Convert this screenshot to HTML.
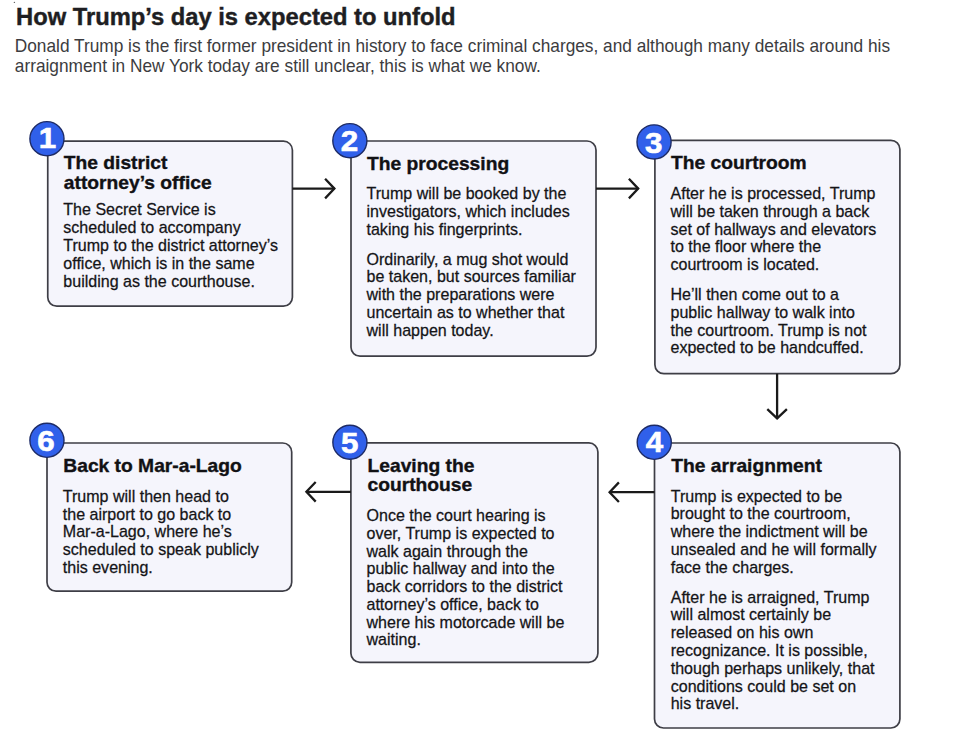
<!DOCTYPE html>
<html><head><meta charset="utf-8"><style>
html,body{margin:0;padding:0;background:#fff;width:979px;height:736px;overflow:hidden}
svg{display:block}
text{font-family:"Liberation Sans",sans-serif}
.t{font-size:18.2px;font-weight:bold;fill:#111114;stroke:#111114;stroke-width:0.35px;letter-spacing:0.0px}
.b{font-size:15.8px;fill:#141417;stroke:#141417;stroke-width:0.25px;letter-spacing:0.0px}
.num{font-size:29px;font-weight:bold;fill:#fff;stroke:#fff;stroke-width:0.6px}
.h{font-size:23px;font-weight:bold;fill:#1e1e22;stroke:#1e1e22;stroke-width:0.4px}
.s{font-size:17.9px;fill:#3c3c40}
</style></head><body>
<svg width="979" height="736" viewBox="0 0 979 736">
<rect x="47.75" y="141.1" width="244.65" height="165.10" rx="9" ry="9" fill="#f5f5fc" stroke="#3e3e46" stroke-width="1.7"/>
<rect x="351.0" y="141.0" width="245.00" height="215.20" rx="9" ry="9" fill="#f5f5fc" stroke="#3e3e46" stroke-width="1.7"/>
<rect x="654.9" y="140.3" width="245.00" height="233.40" rx="9" ry="9" fill="#f5f5fc" stroke="#3e3e46" stroke-width="1.7"/>
<rect x="47.0" y="443.0" width="244.70" height="148.20" rx="9" ry="9" fill="#f5f5fc" stroke="#3e3e46" stroke-width="1.7"/>
<rect x="350.9" y="442.9" width="247.00" height="219.40" rx="9" ry="9" fill="#f5f5fc" stroke="#3e3e46" stroke-width="1.7"/>
<rect x="654.5" y="443.0" width="245.40" height="285.00" rx="9" ry="9" fill="#f5f5fc" stroke="#3e3e46" stroke-width="1.7"/>
<path d="M292.4 188.6 H334.6" stroke="#1a1a1a" stroke-width="2.3" fill="none"/>
<path d="M325.1 178.79999999999998 L334.40000000000003 188.6 L325.1 198.4" stroke="#1a1a1a" stroke-width="2.3" fill="none" stroke-linejoin="miter" stroke-miterlimit="10"/>
<path d="M596.0 188.6 H638.4" stroke="#1a1a1a" stroke-width="2.3" fill="none"/>
<path d="M628.9 178.79999999999998 L638.1999999999999 188.6 L628.9 198.4" stroke="#1a1a1a" stroke-width="2.3" fill="none" stroke-linejoin="miter" stroke-miterlimit="10"/>
<path d="M777.1 373.7 V418.6" stroke="#1a1a1a" stroke-width="2.3" fill="none"/>
<path d="M767.3000000000001 409.1 L777.1 418.40000000000003 L786.9 409.1" stroke="#1a1a1a" stroke-width="2.3" fill="none"/>
<path d="M654.5 492.2 H609.4" stroke="#1a1a1a" stroke-width="2.3" fill="none"/>
<path d="M618.9 482.4 L609.6 492.2 L618.9 502.0" stroke="#1a1a1a" stroke-width="2.3" fill="none" stroke-linejoin="miter" stroke-miterlimit="10"/>
<path d="M350.9 491.8 H306.2" stroke="#1a1a1a" stroke-width="2.3" fill="none"/>
<path d="M315.7 482.0 L306.4 491.8 L315.7 501.6" stroke="#1a1a1a" stroke-width="2.3" fill="none" stroke-linejoin="miter" stroke-miterlimit="10"/>
<circle cx="46.95" cy="138.7" r="17.05" fill="#3060ea" stroke="#1d2b66" stroke-width="1.4"/>
<text transform="translate(47.4 148.0) scale(1.08 1)" text-anchor="middle" class="num">1</text>
<circle cx="349.85" cy="140.7" r="17.05" fill="#3060ea" stroke="#1d2b66" stroke-width="1.4"/>
<text transform="translate(349.5 150.9) scale(1.08 1)" text-anchor="middle" class="num">2</text>
<circle cx="654.05" cy="141.9" r="17.05" fill="#3060ea" stroke="#1d2b66" stroke-width="1.4"/>
<text transform="translate(653.8 152.5) scale(1.08 1)" text-anchor="middle" class="num">3</text>
<circle cx="654.25" cy="442.3" r="17.05" fill="#3060ea" stroke="#1d2b66" stroke-width="1.4"/>
<text transform="translate(654.4 452.4) scale(1.08 1)" text-anchor="middle" class="num">4</text>
<circle cx="349.9" cy="442.25" r="17.05" fill="#3060ea" stroke="#1d2b66" stroke-width="1.4"/>
<text transform="translate(349.8 452.9) scale(1.08 1)" text-anchor="middle" class="num">5</text>
<circle cx="46.95" cy="440.3" r="17.05" fill="#3060ea" stroke="#1d2b66" stroke-width="1.4"/>
<text transform="translate(45.9 450.7) scale(1.08 1)" text-anchor="middle" class="num">6</text>
<text transform="translate(63.80 169.00) scale(1.057 1)" class="t">The district</text>
<text transform="translate(63.80 188.90) scale(1.057 1)" class="t">attorney’s office</text>
<text transform="translate(63.30 215.00) scale(1.016 1)" class="b">The Secret Service is</text>
<text transform="translate(63.30 233.00) scale(1.016 1)" class="b">scheduled to accompany</text>
<text transform="translate(63.30 251.00) scale(1.016 1)" class="b">Trump to the district attorney’s</text>
<text transform="translate(63.30 269.00) scale(1.016 1)" class="b">office, which is in the same</text>
<text transform="translate(63.30 287.00) scale(1.016 1)" class="b">building as the courthouse.</text>
<text transform="translate(367.00 169.80) scale(1.057 1)" class="t">The processing</text>
<text transform="translate(366.50 199.00) scale(1.016 1)" class="b">Trump will be booked by the</text>
<text transform="translate(366.50 216.75) scale(1.016 1)" class="b">investigators, which includes</text>
<text transform="translate(366.50 234.50) scale(1.016 1)" class="b">taking his fingerprints.</text>
<text transform="translate(366.50 264.50) scale(1.016 1)" class="b">Ordinarily, a mug shot would</text>
<text transform="translate(366.50 282.25) scale(1.016 1)" class="b">be taken, but sources familiar</text>
<text transform="translate(366.50 300.00) scale(1.016 1)" class="b">with the preparations were</text>
<text transform="translate(366.50 317.75) scale(1.016 1)" class="b">uncertain as to whether that</text>
<text transform="translate(366.50 335.50) scale(1.016 1)" class="b">will happen today.</text>
<text transform="translate(671.00 169.10) scale(1.057 1)" class="t">The courtroom</text>
<text transform="translate(670.50 199.00) scale(1.016 1)" class="b">After he is processed, Trump</text>
<text transform="translate(670.50 216.75) scale(1.016 1)" class="b">will be taken through a back</text>
<text transform="translate(670.50 234.50) scale(1.016 1)" class="b">set of hallways and elevators</text>
<text transform="translate(670.50 252.25) scale(1.016 1)" class="b">to the floor where the</text>
<text transform="translate(670.50 270.00) scale(1.016 1)" class="b">courtroom is located.</text>
<text transform="translate(670.50 300.00) scale(1.016 1)" class="b">He’ll then come out to a</text>
<text transform="translate(670.50 317.75) scale(1.016 1)" class="b">public hallway to walk into</text>
<text transform="translate(670.50 335.50) scale(1.016 1)" class="b">the courtroom. Trump is not</text>
<text transform="translate(670.50 353.25) scale(1.016 1)" class="b">expected to be handcuffed.</text>
<text transform="translate(671.20 472.20) scale(1.057 1)" class="t">The arraignment</text>
<text transform="translate(670.70 501.50) scale(1.016 1)" class="b">Trump is expected to be</text>
<text transform="translate(670.70 519.25) scale(1.016 1)" class="b">brought to the courtroom,</text>
<text transform="translate(670.70 537.00) scale(1.016 1)" class="b">where the indictment will be</text>
<text transform="translate(670.70 554.75) scale(1.016 1)" class="b">unsealed and he will formally</text>
<text transform="translate(670.70 572.50) scale(1.016 1)" class="b">face the charges.</text>
<text transform="translate(670.70 602.70) scale(1.016 1)" class="b">After he is arraigned, Trump</text>
<text transform="translate(670.70 620.48) scale(1.016 1)" class="b">will almost certainly be</text>
<text transform="translate(670.70 638.26) scale(1.016 1)" class="b">released on his own</text>
<text transform="translate(670.70 656.04) scale(1.016 1)" class="b">recognizance. It is possible,</text>
<text transform="translate(670.70 673.82) scale(1.016 1)" class="b">though perhaps unlikely, that</text>
<text transform="translate(670.70 691.60) scale(1.016 1)" class="b">conditions could be set on</text>
<text transform="translate(670.70 709.38) scale(1.016 1)" class="b">his travel.</text>
<text transform="translate(367.50 471.80) scale(1.057 1)" class="t">Leaving the</text>
<text transform="translate(367.50 491.20) scale(1.057 1)" class="t">courthouse</text>
<text transform="translate(366.50 521.30) scale(1.016 1)" class="b">Once the court hearing is</text>
<text transform="translate(366.50 539.00) scale(1.016 1)" class="b">over, Trump is expected to</text>
<text transform="translate(366.50 556.70) scale(1.016 1)" class="b">walk again through the</text>
<text transform="translate(366.50 574.40) scale(1.016 1)" class="b">public hallway and into the</text>
<text transform="translate(366.50 592.10) scale(1.016 1)" class="b">back corridors to the district</text>
<text transform="translate(366.50 609.80) scale(1.016 1)" class="b">attorney’s office, back to</text>
<text transform="translate(366.50 627.50) scale(1.016 1)" class="b">where his motorcade will be</text>
<text transform="translate(366.50 645.20) scale(1.016 1)" class="b">waiting.</text>
<text transform="translate(63.30 471.60) scale(1.057 1)" class="t">Back to Mar-a-Lago</text>
<text transform="translate(62.80 501.80) scale(1.016 1)" class="b">Trump will then head to</text>
<text transform="translate(62.80 519.55) scale(1.016 1)" class="b">the airport to go back to</text>
<text transform="translate(62.80 537.30) scale(1.016 1)" class="b">Mar-a-Lago, where he’s</text>
<text transform="translate(62.80 555.05) scale(1.016 1)" class="b">scheduled to speak publicly</text>
<text transform="translate(62.80 572.80) scale(1.016 1)" class="b">this evening.</text>
<circle cx="14.4" cy="2.4" r="0.7" fill="#666"/>
<text transform="translate(16.10 25.40) scale(1.032 1)" class="h">How Trump’s day is expected to unfold</text>
<text transform="translate(14.80 52.00) scale(0.9655 1)" class="s">Donald Trump is the first former president in history to face criminal charges, and although many details around his</text>
<text transform="translate(14.80 71.90) scale(0.9655 1)" class="s">arraignment in New York today are still unclear, this is what we know.</text>
</svg>
</body></html>
